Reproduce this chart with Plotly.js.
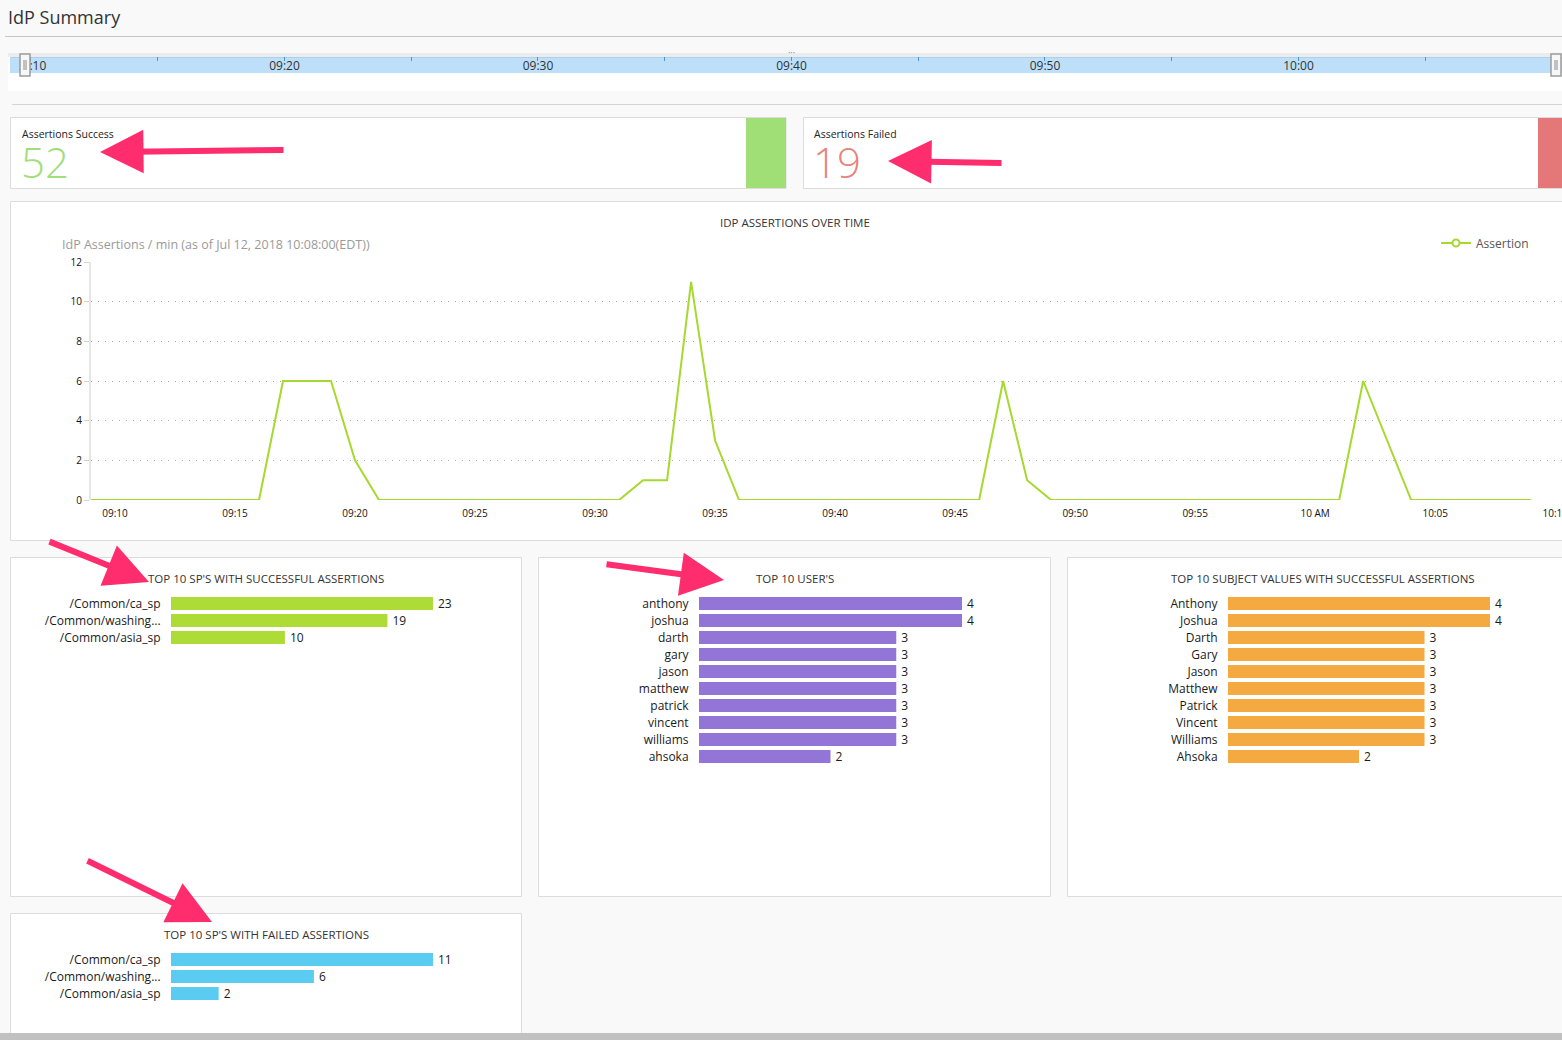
<!DOCTYPE html>
<html><head><meta charset="utf-8">
<script src="https://cdn.plot.ly/plotly-3.0.1.min.js"></script>
<style>html,body{margin:0;padding:0;background:#f9f9f9;overflow:hidden}#chart{width:1562px;height:1040px}</style>
</head><body><div id="chart"></div>
<script>
// ---------- data ----------
const pageTitle = 'IdP Summary';
const kpiLabels = ['Assertions Success', 'Assertions Failed'];
const kpiValues = [52, 19];

const lineTitle = 'IDP ASSERTIONS OVER TIME';
const lineSubtitle = 'IdP Assertions / min (as of Jul 12, 2018 10:08:00(EDT))';
const seriesName = 'Assertion';
const minutes = [
  '09:09',
  '09:10','09:11','09:12','09:13','09:14','09:15','09:16','09:17','09:18','09:19',
  '09:20','09:21','09:22','09:23','09:24','09:25','09:26','09:27','09:28','09:29',
  '09:30','09:31','09:32','09:33','09:34','09:35','09:36','09:37','09:38','09:39',
  '09:40','09:41','09:42','09:43','09:44','09:45','09:46','09:47','09:48','09:49',
  '09:50','09:51','09:52','09:53','09:54','09:55','09:56','09:57','09:58','09:59',
  '10:00','10:01','10:02','10:03','10:04','10:05','10:06','10:07','10:08','10:09'
];
const assertions = [
  0,
  0,0,0,0,0,0,0,6,6,6,
  2,0,0,0,0,0,0,0,0,0,
  0,0,1,1,11,3,0,0,0,0,
  0,0,0,0,0,0,0,6,1,0,
  0,0,0,0,0,0,0,0,0,0,
  0,0,6,3,0,0,0,0,0,0
];
const lineTickVals = ['09:10','09:15','09:20','09:25','09:30','09:35','09:40','09:45','09:50','09:55','10:00','10:05','10:10'];
const lineTickText = ['09:10','09:15','09:20','09:25','09:30','09:35','09:40','09:45','09:50','09:55','10 AM','10:05','10:10'];
const yTickVals = [0, 2, 4, 6, 8, 10, 12];

const sliderTickVals = ['09:10','09:15','09:20','09:25','09:30','09:35','09:40','09:45','09:50','09:55','10:00','10:05'];
const sliderTickText = ['09:10','','09:20','','09:30','','09:40','','09:50','','10:00',''];

const spTitle = "TOP 10 SP'S WITH SUCCESSFUL ASSERTIONS";
const spNames = ['/Common/ca_sp', '/Common/washing...', '/Common/asia_sp'];
const spSuccess = [23, 19, 10];

const userTitle = "TOP 10 USER'S";
const userNames = ['anthony','joshua','darth','gary','jason','matthew','patrick','vincent','williams','ahsoka'];
const userCounts = [4, 4, 3, 3, 3, 3, 3, 3, 3, 2];

const subjectTitle = 'TOP 10 SUBJECT VALUES WITH SUCCESSFUL ASSERTIONS';
const subjectNames = ['Anthony','Joshua','Darth','Gary','Jason','Matthew','Patrick','Vincent','Williams','Ahsoka'];
const subjectCounts = [4, 4, 3, 3, 3, 3, 3, 3, 3, 2];

const spFailTitle = "TOP 10 SP'S WITH FAILED ASSERTIONS";
const spFailNames = ['/Common/ca_sp', '/Common/washing...', '/Common/asia_sp'];
const spFailed = [11, 6, 2];

// ---------- helpers ----------
const W = 1562, H = 1040;
const px = x => x / W;
const py = y => 1 - y / H;
const DAY = '2018-07-12 ';
const t = s => DAY + s;
const FONT = 'Open Sans, Noto Sans, sans-serif';

// ---------- traces ----------
const traces = [];
traces.push({
  type: 'scatter', mode: 'lines', x: minutes.map(t), y: assertions,
  xaxis: 'x', yaxis: 'y', name: seriesName, legendgroup: 'a', showlegend: false,
  line: {color: '#a6d92f', width: 2}, hoverinfo: 'skip'
});
traces.push({
  type: 'scatter', mode: 'lines+markers', x: [null], y: [null],
  xaxis: 'x', yaxis: 'y', name: seriesName, legendgroup: 'a', showlegend: true,
  line: {color: '#a6d92f', width: 2},
  marker: {symbol: 'circle', size: 7, color: '#ffffff', line: {width: 2, color: '#a6d92f'}}, hoverinfo: 'skip'
});

function barTrace(names, vals, ax, color) {
  return {
    type: 'bar', orientation: 'h', x: vals, y: names,
    xaxis: 'x' + ax, yaxis: 'y' + ax, marker: {color: color},
    text: vals.map(v => '\u2009' + v), textposition: 'outside', cliponaxis: false,
    constraintext: 'none',
    textfont: {size: 12, color: '#1a1a1a', family: FONT},
    hoverinfo: 'skip', showlegend: false
  };
}
traces.push(barTrace(spNames, spSuccess, 2, '#addc36'));
traces.push(barTrace(userNames, userCounts, 3, '#9275d7'));
traces.push(barTrace(subjectNames, subjectCounts, 4, '#f5a941'));
traces.push(barTrace(spFailNames, spFailed, 5, '#5bccf1'));

traces.push({
  type: 'scatter', mode: 'none', x: sliderTickVals.map(t), y: sliderTickVals.map(() => 0.5),
  xaxis: 'x6', yaxis: 'y6', hoverinfo: 'skip', showlegend: false
});

// ---------- axes ----------
function barAxes(ax, x0, x1, max, yTop, n) {
  const yBot = yTop + n * 17;
  return {
    ['xaxis' + ax]: {domain: [px(x0), px(x1)], range: [0, max], anchor: 'y' + ax, visible: false, fixedrange: true},
    ['yaxis' + ax]: {domain: [py(yBot), py(yTop)], anchor: 'x' + ax, type: 'category', autorange: 'reversed',
      showgrid: false, zeroline: false, showline: false, ticks: 'outside', ticklen: 7,
      tickcolor: 'rgba(0,0,0,0)', tickfont: {size: 12, color: '#1a1a1a', family: FONT}, fixedrange: true}
  };
}

// ---------- shapes ----------
const rect = (x0, y0, x1, y1, fill, line, layer) => ({
  type: 'rect', xref: 'paper', yref: 'paper', x0: px(x0), x1: px(x1), y0: py(y1), y1: py(y0),
  fillcolor: fill, line: line ? {color: line, width: 1} : {width: 0}, layer: layer || 'below'
});
const hline = (x0, x1, y, color, w) => ({
  type: 'line', xref: 'paper', yref: 'paper', x0: px(x0), x1: px(x1), y0: py(y), y1: py(y),
  line: {color: color, width: w || 1}, layer: 'below'
});
const BORDER = '#dcdcdc';
const shapes = [
  hline(5, 1562, 36.5, '#c6c6c6'),
  rect(8, 53, 1562, 91, '#ffffff', null),
  rect(8, 53, 1562, 57, '#ececec', null),
  rect(10, 57, 1562, 73, '#bddffa', null),
  hline(10, 1562, 57.5, '#a9d1f1'),
  hline(12, 1562, 104.5, '#d4d4d4'),
  rect(10.5, 117.5, 786, 188.5, '#ffffff', BORDER),
  rect(746, 118, 786, 188, '#9fdf76', null),
  rect(803.5, 117.5, 1570, 188.5, '#ffffff', BORDER),
  rect(1538, 118, 1562, 188, '#e47777', null),
  rect(10.5, 201.5, 1570, 540.5, '#ffffff', BORDER),
  rect(10.5, 557.5, 521.5, 896.5, '#ffffff', BORDER),
  rect(538.5, 557.5, 1050.5, 896.5, '#ffffff', BORDER),
  rect(1067.5, 557.5, 1570, 896.5, '#ffffff', BORDER),
  rect(10.5, 913.5, 521.5, 1050, '#ffffff', BORDER),
  rect(0, 1033, 1562, 1040, '#c1c1c1', null),
  // slider: part of the bar left of the window, drawn over the first label
  rect(10, 58, 19.5, 73, '#bddffa', null, 'above'),
  // slider handles
  Object.assign(rect(20, 54, 30, 76, '#f7f7f7', '#9c9c9c', 'above'), {line: {color: '#9c9c9c', width: 1.5}}),
  Object.assign(rect(1551, 54, 1561, 76, '#f7f7f7', '#9c9c9c', 'above'), {line: {color: '#9c9c9c', width: 1.5}}),
];
[[24, 26], [1555, 1557]].forEach(p => p.forEach(x => shapes.push({
  type: 'line', xref: 'paper', yref: 'paper', x0: px(x), x1: px(x), y0: py(70), y1: py(60),
  line: {color: '#8a8a8a', width: 1}, layer: 'above'
})));

// ---------- annotations ----------
const txt = (text, x, y, size, color, anchor, extra) => Object.assign({
  text: text, xref: 'paper', yref: 'paper', x: px(x), y: py(y), showarrow: false,
  xanchor: anchor || 'left', yanchor: 'middle', font: {size: size, color: color, family: FONT}
}, extra || {});
const bigNum = (text, x, color) => ({
  text: text, xref: 'paper', yref: 'paper', x: px(x), y: py(161), showarrow: false,
  xanchor: 'left', yanchor: 'middle', height: 34, valign: 'middle',
  font: {size: 42, color: color, family: FONT, weight: 300}
});
const annotations = [
  txt(pageTitle, 6, 17, 18, '#333333'),
  txt('···', 791, 52, 9, '#777777', 'center'),
  txt(kpiLabels[0], 20, 134, 10.5, '#222222'),
  bigNum(String(kpiValues[0]), 19, '#a2dd7b'),
  txt(kpiLabels[1], 812, 134, 10.5, '#222222'),
  bigNum(String(kpiValues[1]), 811, '#e8837c'),
  txt(lineTitle, 795, 222, 11.5, '#333333', 'center'),
  txt(lineSubtitle, 60, 244, 12.5, '#9a9a9a'),
  txt(spTitle, 266, 578, 11.5, '#333333', 'center'),
  txt(userTitle, 795, 578, 11.5, '#333333', 'center'),
  txt(subjectTitle, 1323, 578, 11.5, '#333333', 'center'),
  txt(spFailTitle, 266, 934, 11.5, '#333333', 'center'),
];
const arrows = [
  [100, 152, 285, 150],
  [888, 161, 1003, 163],
  [149, 582, 48, 541],
  [724, 580, 605, 564],
  [212, 922, 86, 860]
];
arrows.forEach(a => annotations.push({
  text: '', xref: 'paper', yref: 'paper', x: px(a[0]), y: py(a[1]),
  ax: a[2] - a[0], ay: a[3] - a[1], showarrow: true,
  arrowhead: 2, arrowsize: 1.45, arrowwidth: 6, arrowcolor: '#ff2d6d'
}));

// ---------- layout ----------
const layout = Object.assign({
  width: W, height: H, margin: {l: 0, r: 0, t: 0, b: 0, pad: 0},
  paper_bgcolor: '#f9f9f9', plot_bgcolor: 'rgba(0,0,0,0)',
  font: {family: FONT, color: '#222'},
  bargap: 0.235, showlegend: true,
  legend: {x: px(1436), y: py(243), xanchor: 'left', yanchor: 'middle', bgcolor: 'rgba(0,0,0,0)',
    font: {size: 12, color: '#555', family: FONT}, itemwidth: 30},
  xaxis: {domain: [px(91), 1], anchor: 'y', type: 'date',
    range: [t('09:09:00'), t('10:10:17')],
    tickvals: lineTickVals.map(t), ticktext: lineTickText, ticklabeloverflow: 'allow',
    showgrid: false, zeroline: false, showline: false,
    ticks: 'outside', ticklen: 4, tickcolor: 'rgba(0,0,0,0)',
    tickfont: {size: 10, color: '#111', family: FONT}, fixedrange: true},
  yaxis: {domain: [py(500), py(262)], anchor: 'x', range: [0, 12], tickvals: yTickVals,
    showgrid: true, gridcolor: '#a8a8a8', griddash: '1px,6px', gridwidth: 1,
    zeroline: false, showline: true, linecolor: '#e6e6e6', linewidth: 2,
    ticks: 'outside', ticklen: 5, tickcolor: '#d2d2d2',
    tickfont: {size: 10, color: '#111', family: FONT}, fixedrange: true},
  xaxis6: {domain: [px(20), px(1560)], anchor: 'y6', type: 'date',
    range: [t('09:09:34'), t('10:10:19')], side: 'top',
    tickvals: sliderTickVals.map(t), ticktext: sliderTickText,
    ticks: 'inside', ticklen: 4, tickcolor: '#3b9ae1', tickwidth: 1,
    ticklabelposition: 'inside', ticklabeloverflow: 'allow',
    tickfont: {size: 12, color: '#333', family: FONT},
    showgrid: false, zeroline: false, showline: false, fixedrange: true},
  yaxis6: {domain: [py(73), py(57)], anchor: 'x6', range: [0, 1], visible: false, fixedrange: true},
  shapes: shapes, annotations: annotations
},
  barAxes(2, 171, 433, 23, 595, 3),
  barAxes(3, 699, 962, 4, 595, 10),
  barAxes(4, 1228, 1490, 4, 595, 10),
  barAxes(5, 171, 433, 11, 951, 3)
);

Plotly.newPlot('chart', traces, layout, {displayModeBar: false, staticPlot: true});
</script></body></html>
